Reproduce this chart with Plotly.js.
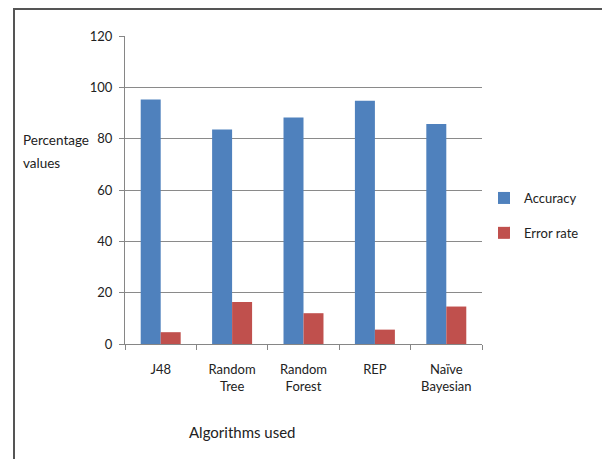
<!DOCTYPE html>
<html>
<head>
<meta charset="utf-8">
<script src="https://cdn.plot.ly/plotly-3.0.1.min.js"></script>
<style>
html,body{margin:0;padding:0;background:#fff;}
#frame{position:absolute;left:13px;top:8px;width:589px;height:451px;border-top:2px solid #555;border-left:2px solid #555;box-sizing:border-box;pointer-events:none;}
#chart{position:absolute;left:0;top:0;width:602px;height:459px;}
</style>
</head>
<body>
<div id="chart"></div>
<div id="frame"></div>
<script>
const categories = ["J48", "Random<br>Tree", "Random<br>Forest", "REP", "Naïve<br>Bayesian"];
const accuracy = [95.3, 83.6, 88.2, 94.8, 85.7];
const errorRate = [4.6, 16.4, 12.0, 5.6, 14.6];
const yTicks = [0, 20, 40, 60, 80, 100, 120];

const font = "Lato, 'Open Sans', sans-serif";

const traces = [
  {type: "bar", name: "Accuracy", x: categories, y: accuracy,
   marker: {color: "#4F81BD"}, legendgroup: "a"},
  {type: "bar", name: "Error rate", x: categories, y: errorRate,
   marker: {color: "#C0504D"}, legendgroup: "b"}
];

const W = 602, H = 459, ML = 125, MR = 120, MT = 36, MB = 115;
const pw = W - ML - MR, ph = H - MT - MB;
const px = v => (v - ML) / pw;
const py = v => (H - MB - v) / ph;

const layout = {
  width: W, height: H,
  margin: {l: ML, r: MR, t: MT, b: MB},
  paper_bgcolor: "#fff", plot_bgcolor: "#fff",
  font: {family: font, size: 13, color: "#222"},
  barmode: "group", bargap: 0.44, bargroupgap: 0,
  showlegend: true,
  legend: {x: px(484), y: py(183), xanchor: "left", yanchor: "top",
           tracegroupgap: 15, font: {family: font, size: 13, color: "#222"},
           itemwidth: 30, bgcolor: "rgba(0,0,0,0)"},
  xaxis: {
    type: "category", showline: true, linecolor: "#868686", linewidth: 1,
    ticks: "outside", tickson: "boundaries", ticklen: 5, tickcolor: "#868686",
    ticklabelstandoff: 13,
    showgrid: false, tickfont: {family: font, size: 13, color: "#222"},
    fixedrange: true
  },
  yaxis: {
    range: [0, 120], tickvals: yTicks, ticktext: yTicks.map(String),
    showline: true, linecolor: "#868686", linewidth: 1,
    ticks: "outside", ticklen: 5, tickcolor: "#868686",
    ticklabelstandoff: 4,
    showgrid: true, gridcolor: "#8a8a8a", gridwidth: 1,
    zeroline: false, tickfont: {family: font, size: 13, color: "#222"},
    fixedrange: true
  },
  annotations: [
    {text: "Percentage", xref: "paper", yref: "paper",
     x: px(21), y: py(140), xanchor: "left", yanchor: "middle", align: "left",
     showarrow: false, font: {family: font, size: 13.5, color: "#222"}},
    {text: "values", xref: "paper", yref: "paper",
     x: px(21), y: py(163), xanchor: "left", yanchor: "middle", align: "left",
     showarrow: false, font: {family: font, size: 13.5, color: "#222"}},
    {text: "Algorithms used", xref: "paper", yref: "paper",
     x: px(242), y: py(432), xanchor: "center", yanchor: "middle",
     showarrow: false, font: {family: font, size: 15, color: "#222"}}
  ]
};

Plotly.newPlot("chart", traces, layout, {displayModeBar: false, staticPlot: true});
</script>
</body>
</html>
